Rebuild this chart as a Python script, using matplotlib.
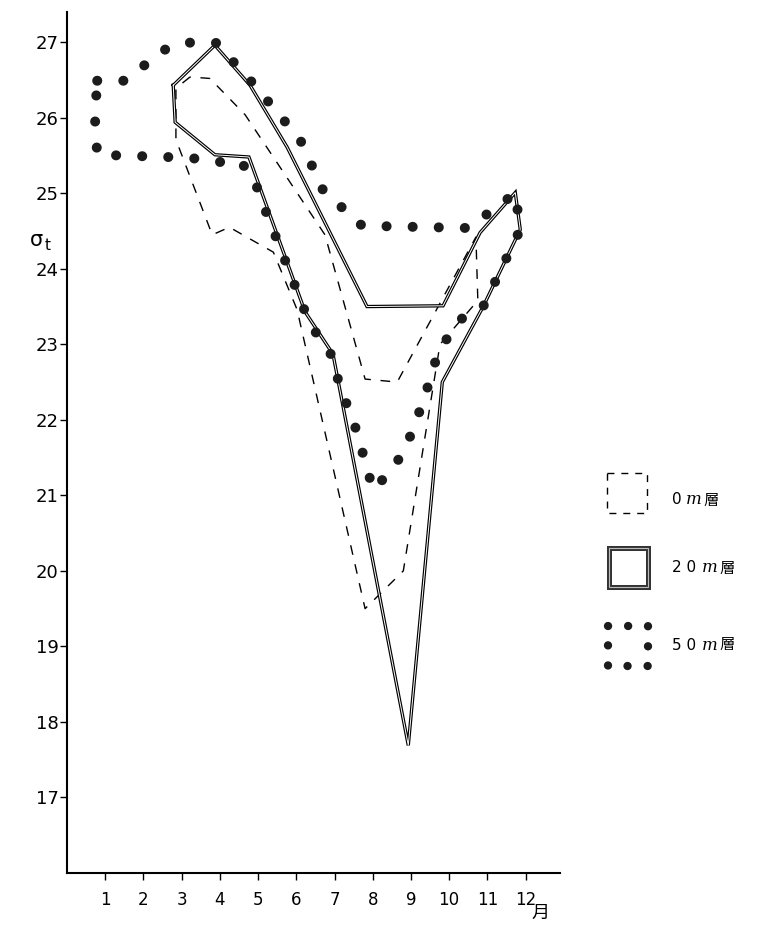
import matplotlib
matplotlib.use('Agg')
import matplotlib.pyplot as plt
import numpy as np

# sigma-t range by month, traced as closed outlines (month, sigma_t)
m0_x = [3.22, 2.85, 2.85, 3.80, 4.25, 5.40, 6.02, 7.80, 8.80, 9.76, 10.75, 10.70, 8.64, 7.80, 6.75, 5.45, 4.66, 3.74, 3.22]
m0_y = [26.54, 26.39, 25.71, 24.45, 24.55, 24.22, 23.46, 19.50, 20.00, 23.00, 23.58, 24.42, 22.50, 22.54, 24.45, 25.44, 26.04, 26.52, 26.54]

m20_x = [2.78, 3.87, 4.79, 5.76, 7.85, 9.84, 10.81, 11.73, 11.86, 10.89, 9.82, 8.93, 6.96, 6.23, 4.76, 3.87, 2.83, 2.78]
m20_y = [26.43, 26.96, 26.43, 25.61, 23.50, 23.51, 24.48, 25.01, 24.52, 23.50, 22.50, 17.69, 22.87, 23.43, 25.48, 25.51, 25.94, 26.43]

m50_x = [0.79, 1.49, 2.64, 3.27, 3.90, 4.84, 6.10, 6.70, 7.72, 10.50, 11.73, 11.86, 10.89, 10.63, 10.21, 9.71, 9.32, 8.85,
         8.51, 8.01, 7.80, 7.46, 7.15, 6.96, 6.57, 6.23, 5.63, 5.10, 4.84, 4.45, 3.93, 3.22, 0.79, 0.73, 0.79]
m50_y = [26.49, 26.49, 26.93, 27.00, 26.99, 26.47, 25.71, 25.04, 24.57, 24.54, 25.00, 24.52, 23.50, 23.46, 23.29, 22.89, 22.24, 21.61,
         21.35, 21.07, 21.45, 22.05, 22.40, 22.83, 23.10, 23.43, 24.21, 24.89, 25.27, 25.44, 25.41, 25.47, 25.51, 26.00, 26.49]

months = list(range(1, 13))
yticks = list(range(17, 28))
layer_nums = ['0', '2 0', '5 0']

dash_style = (0, (7, 7))
dot_style = (0, (0.01, 2.6))

fig = plt.figure(figsize=(7.6, 9.25), dpi=100)
ax = fig.add_axes([67 / 760, 52 / 925, 493 / 760, 861 / 925])

ax.plot(m0_x, m0_y, color='black', lw=1.0, linestyle=dash_style)
ax.plot(m20_x, m20_y, color='black', lw=2.4, solid_joinstyle='miter')
ax.plot(m20_x, m20_y, color='white', lw=0.7, solid_joinstyle='miter')
ax.plot(m50_x, m50_y, color='#1c1c1c', lw=7.2, linestyle=dot_style, dash_capstyle='round')

ax.set_xlim(0, 12.9)
ax.set_ylim(16, 27.4)
ax.set_xticks(months)
ax.set_yticks(yticks)
ax.spines['top'].set_visible(False)
ax.spines['right'].set_visible(False)
ax.spines['left'].set_linewidth(1.5)
ax.spines['bottom'].set_linewidth(1.5)
ax.tick_params(axis='y', length=5, width=1, labelsize=13, pad=1)
ax.tick_params(axis='x', length=5, width=1, labelsize=12, pad=8)

fig.text(30 / 760, 1 - 240 / 925, 'σ', fontsize=15, va='center')
fig.text(45 / 760, 1 - 246 / 925, 't', fontsize=11, va='center')
fig.text(540 / 760, 1 - 913 / 925, '月', fontsize=13, va='center', ha='center',
         family=['Noto Sans CJK JP', 'DejaVu Sans'])

# legend drawn in pixel-like coordinates
lax = fig.add_axes([590 / 760, 1 - 690 / 925, 170 / 760, 230 / 925])
lax.set_xlim(590, 760)
lax.set_ylim(690, 460)
lax.axis('off')


def square(x0, y0, s):
    return [x0, x0 + s, x0 + s, x0, x0], [y0, y0, y0 + s, y0 + s, y0]


sx, sy = square(607, 473, 40)
lax.plot(sx, sy, color='black', lw=1.0, linestyle=(0, (5, 5)))
sx, sy = square(609, 548, 39)
lax.plot(sx, sy, color='#333333', lw=3.6, solid_joinstyle='miter')
lax.plot(sx, sy, color='#bbbbbb', lw=0.8, solid_joinstyle='miter')
sx, sy = square(608, 626, 40)
lax.plot(sx, sy, color='#1c1c1c', lw=6.0, linestyle=(0, (0.01, 2.4)), dash_capstyle='round')

label_y = [500, 568, 645]
m_x = [686, 702, 702]
k_x = [703, 719, 719]
for num, ly, mx, kx in zip(layer_nums, label_y, m_x, k_x):
    lax.text(672, ly, num, fontsize=11, va='center')
    lax.text(mx, ly, 'm', fontsize=12, va='center', style='italic', family='DejaVu Serif')
    lax.text(kx, ly, '層', fontsize=11, va='center', family=['Noto Sans CJK JP', 'DejaVu Sans'])

fig.savefig('out.png', dpi=100)
